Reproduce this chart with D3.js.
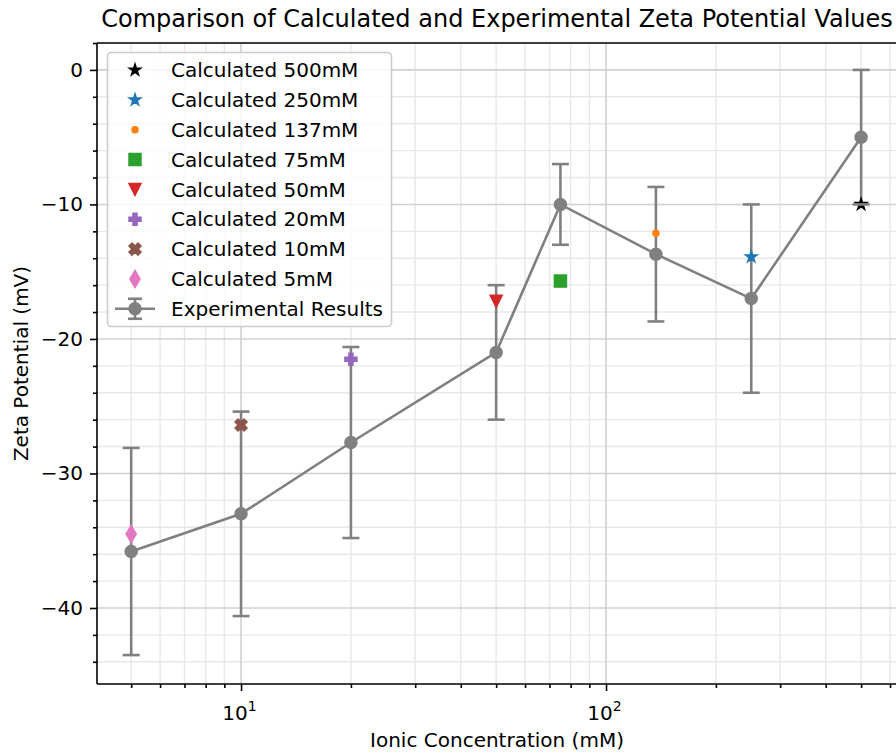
<!DOCTYPE html>
<html>
<head>
<meta charset="utf-8">
<script src="https://cdn.jsdelivr.net/npm/d3@7"></script>
<style>
  html, body { margin: 0; padding: 0; background: #fff; }
  svg { display: block; font-family: "DejaVu Sans", sans-serif; }
</style>
</head>
<body>
<svg id="chart" width="896" height="756"></svg>
<script>
// Experimental measurements (mean ± error) at each ionic concentration
const concentrations = [5, 10, 20, 50, 75, 137, 250, 500];
const expMeans = [-35.8, -33.0, -27.7, -21.0, -10.0, -13.7, -17.0, -5.0];
const expErrors = [7.7, 7.6, 7.1, 5.0, 3.0, 5.0, 7.0, 5.0];

// Calculated values, one series per concentration (legend order)
const calcLabels = ["Calculated 500mM", "Calculated 250mM", "Calculated 137mM", "Calculated 75mM",
                    "Calculated 50mM", "Calculated 20mM", "Calculated 10mM", "Calculated 5mM"];
const calcConc = [500, 250, 137, 75, 50, 20, 10, 5];
const calcValues = [-10.0, -13.9, -12.15, -15.7, -17.2, -21.5, -26.4, -34.5];
const calcColors = ["#000000", "#1f77b4", "#ff7f0e", "#2ca02c", "#d62728", "#9467bd", "#8c564b", "#e377c2"];
const calcMarkers = ["star", "star", "point", "square", "triangleDown", "plusFilled", "xFilled", "thinDiamond"];

const expLabel = "Experimental Results";
const expColor = "#808080";

const xMajorTicks = [10, 100];
const xMinorTicks = [5, 6, 7, 8, 9, 20, 30, 40, 50, 60, 70, 80, 90, 200, 300, 400, 500, 600];
const yMajorTicks = [0, -10, -20, -30, -40];
const yMinorTicks = d3.range(-44, 3, 2).filter(v => v % 10 !== 0);

const svg = d3.select("#chart");
const plot = { left: 97, right: 897, top: 43, bottom: 684 };

const x = d3.scaleLog().domain([4.03, 627]).range([plot.left, plot.right]);
const y = d3.scaleLinear().domain([-45.65, 2.0]).range([plot.bottom, plot.top]);

const MS = 12; // marker size in px

// Marker path generators (centered at origin)
function markerPath(kind, s) {
  const h = s / 2;
  const p = d3.path();
  const poly = pts => { pts.forEach((q, i) => i ? p.lineTo(q[0], q[1]) : p.moveTo(q[0], q[1])); p.closePath(); };
  switch (kind) {
    case "star": {
      const pts = [];
      const inner = h * 0.381966;
      for (let i = 0; i < 10; i++) {
        const r = i % 2 === 0 ? h : inner;
        const a = -Math.PI / 2 + i * Math.PI / 5;
        pts.push([r * Math.cos(a), r * Math.sin(a)]);
      }
      poly(pts); break;
    }
    case "point": p.arc(0, 0, s / 4, 0, 2 * Math.PI); break;
    case "circle": p.arc(0, 0, h, 0, 2 * Math.PI); break;
    case "square": poly([[-h, -h], [h, -h], [h, h], [-h, h]]); break;
    case "triangleDown": poly([[0, h], [-h, -h], [h, -h]]); break;
    case "plusFilled": {
      const u = s / 6;
      poly([[-1, -3], [1, -3], [1, -1], [3, -1], [3, 1], [1, 1], [1, 3], [-1, 3], [-1, 1], [-3, 1], [-3, -1], [-1, -1]]
        .map(q => [q[0] * u, q[1] * u]));
      break;
    }
    case "xFilled": {
      const u = s / 4;
      poly([[-1, -2], [0, -1], [1, -2], [2, -1], [1, 0], [2, 1], [1, 2], [0, 1], [-1, 2], [-2, 1], [-1, 0], [-2, -1]]
        .map(q => [q[0] * u, q[1] * u]));
      break;
    }
    case "thinDiamond": {
      const d = s * Math.SQRT1_2;
      poly([[0, -d], [0.6 * d, 0], [0, d], [-0.6 * d, 0]]);
      break;
    }
  }
  return p.toString();
}

// Grid: minor first, then major
const grid = svg.append("g");
grid.selectAll("line.xminor").data(xMinorTicks).join("line")
  .attr("x1", d => x(d)).attr("x2", d => x(d)).attr("y1", plot.top).attr("y2", plot.bottom)
  .attr("stroke", "#e8e8e8").attr("stroke-width", 1.4);
grid.selectAll("line.yminor").data(yMinorTicks).join("line")
  .attr("y1", d => y(d)).attr("y2", d => y(d)).attr("x1", plot.left).attr("x2", plot.right)
  .attr("stroke", "#e8e8e8").attr("stroke-width", 1.4);
grid.selectAll("line.xmajor").data(xMajorTicks).join("line")
  .attr("x1", d => x(d)).attr("x2", d => x(d)).attr("y1", plot.top).attr("y2", plot.bottom)
  .attr("stroke", "#d0d0d0").attr("stroke-width", 1.6);
grid.selectAll("line.ymajor").data(yMajorTicks).join("line")
  .attr("y1", d => y(d)).attr("y2", d => y(d)).attr("x1", plot.left).attr("x2", plot.right)
  .attr("stroke", "#d0d0d0").attr("stroke-width", 1.6);

// Experimental series: vertical error bars below, then line and circle markers
const expData = concentrations.map((c, i) => ({ c, m: expMeans[i], e: expErrors[i] }));
const exp = svg.append("g");
exp.selectAll("line.bar").data(expData).join("line")
  .attr("x1", d => x(d.c)).attr("x2", d => x(d.c))
  .attr("y1", d => y(d.m - d.e)).attr("y2", d => y(d.m + d.e))
  .attr("stroke", expColor).attr("stroke-width", 2.6);
exp.append("path")
  .datum(expData)
  .attr("d", d3.line().x(d => x(d.c)).y(d => y(d.m)))
  .attr("fill", "none").attr("stroke", expColor).attr("stroke-width", 2.6);
exp.selectAll("path.dot").data(expData).join("path")
  .attr("d", markerPath("circle", MS))
  .attr("transform", d => `translate(${x(d.c)},${y(d.m)})`)
  .attr("fill", expColor).attr("stroke", expColor).attr("stroke-width", 1.5);

// Calculated points
const calcData = calcConc.map((c, i) => ({ c, v: calcValues[i], color: calcColors[i], marker: calcMarkers[i] }));
svg.append("g").selectAll("path").data(calcData).join("path")
  .attr("d", d => markerPath(d.marker, MS))
  .attr("transform", d => `translate(${x(d.c)},${y(d.v)})`)
  .attr("fill", d => d.color).attr("stroke", d => d.color).attr("stroke-width", 1.5)
  .attr("stroke-linejoin", "miter");

// Error bar caps sit on top of everything in the data area
const CAP = 8.5;
const caps = svg.append("g").attr("stroke", expColor).attr("stroke-width", 2.6);
caps.selectAll("line.top").data(expData).join("line")
  .attr("x1", d => x(d.c) - CAP).attr("x2", d => x(d.c) + CAP)
  .attr("y1", d => y(d.m + d.e)).attr("y2", d => y(d.m + d.e));
caps.selectAll("line.bottom").data(expData).join("line")
  .attr("x1", d => x(d.c) - CAP).attr("x2", d => x(d.c) + CAP)
  .attr("y1", d => y(d.m - d.e)).attr("y2", d => y(d.m - d.e));

// Axes
const FS = 20;
const xAxisMajor = d3.axisBottom(x).tickValues(xMajorTicks).tickSize(7).tickPadding(7).tickFormat("");
const xAxisMinor = d3.axisBottom(x).tickValues(xMinorTicks).tickSize(4).tickFormat("");
const yAxisMajor = d3.axisLeft(y).tickValues(yMajorTicks).tickSize(7).tickPadding(7)
  .tickFormat(d => d < 0 ? "\u2212" + Math.abs(d) : String(d));
const yAxisMinor = d3.axisLeft(y).tickValues(yMinorTicks).tickSize(4).tickFormat("");

function styleAxis(g) {
  g.select(".domain").remove();
  g.selectAll(".tick line").attr("stroke", "#000").attr("stroke-width", 1.6);
  g.selectAll("text").attr("fill", "#000").style("font-size", FS + "px").style("font-family", "DejaVu Sans");
}
svg.append("g").attr("transform", `translate(0,${plot.bottom})`).call(xAxisMinor).call(styleAxis);
const gxMajor = svg.append("g").attr("transform", `translate(0,${plot.bottom})`).call(xAxisMajor).call(styleAxis);
// Power-of-ten labels with superscript exponent
gxMajor.selectAll(".tick").each(function (d) {
  const t = d3.select(this).select("text").attr("y", 36).attr("dy", null);
  t.text("10");
  t.append("tspan").attr("dy", -9).style("font-size", "14px").text(String(Math.round(Math.log10(d))));
});
gxMajor.selectAll(".tick text").attr("dx", "-2");

svg.append("g").attr("transform", `translate(${plot.left},0)`).call(yAxisMinor).call(styleAxis);
svg.append("g").attr("transform", `translate(${plot.left},0)`).call(yAxisMajor).call(styleAxis);

// Spines
const spines = svg.append("g").attr("stroke", "#000").attr("stroke-width", 1.6);
spines.append("line").attr("x1", plot.left).attr("x2", plot.left).attr("y1", plot.top).attr("y2", plot.bottom);
spines.append("line").attr("x1", plot.left).attr("x2", plot.right).attr("y1", plot.bottom).attr("y2", plot.bottom);
spines.append("line").attr("x1", plot.left).attr("x2", plot.right).attr("y1", plot.top).attr("y2", plot.top);
spines.append("line").attr("x1", plot.right).attr("x2", plot.right).attr("y1", plot.top).attr("y2", plot.bottom);

// Titles
svg.append("text").attr("x", (plot.left + plot.right) / 2).attr("y", 27)
  .attr("text-anchor", "middle").style("font-size", "24px").attr("fill", "#000")
  .text("Comparison of Calculated and Experimental Zeta Potential Values");
svg.append("text").attr("x", (plot.left + plot.right) / 2).attr("y", 747)
  .attr("text-anchor", "middle").style("font-size", FS + "px").attr("fill", "#000")
  .text("Ionic Concentration (mM)");
svg.append("text").attr("transform", `translate(28,${(plot.top + plot.bottom) / 2}) rotate(-90)`)
  .attr("text-anchor", "middle").style("font-size", FS + "px").attr("fill", "#000")
  .text("Zeta Potential (mV)");

// Legend
const legend = svg.append("g");
legend.append("rect").attr("x", 107.5).attr("y", 52.5).attr("width", 284).attr("height", 274)
  .attr("rx", 4).attr("fill", "#fff").attr("fill-opacity", 0.8).attr("stroke", "#cccccc").attr("stroke-width", 1.6);
const rowY = i => 70 + i * 29.85;
const handleX = 135;
calcLabels.forEach((lab, i) => {
  legend.append("path").attr("d", markerPath(calcMarkers[i], MS))
    .attr("transform", `translate(${handleX},${rowY(i)})`)
    .attr("fill", calcColors[i]).attr("stroke", calcColors[i]).attr("stroke-width", 1.5);
  legend.append("text").attr("x", 171).attr("y", rowY(i)).attr("dy", "0.36em")
    .style("font-size", FS + "px").attr("fill", "#000").text(lab);
});
{
  const yy = rowY(calcLabels.length);
  const h = legend.append("g").attr("stroke", expColor).attr("stroke-width", 2.6);
  h.append("line").attr("x1", 115).attr("x2", 155).attr("y1", yy).attr("y2", yy);
  h.append("line").attr("x1", handleX).attr("x2", handleX).attr("y1", yy - 10).attr("y2", yy + 10);
  h.append("line").attr("x1", handleX - 7).attr("x2", handleX + 7).attr("y1", yy - 10).attr("y2", yy - 10);
  h.append("line").attr("x1", handleX - 7).attr("x2", handleX + 7).attr("y1", yy + 10).attr("y2", yy + 10);
  legend.append("path").attr("d", markerPath("circle", MS))
    .attr("transform", `translate(${handleX},${yy})`)
    .attr("fill", expColor).attr("stroke", expColor).attr("stroke-width", 1.5);
  legend.append("text").attr("x", 171).attr("y", yy).attr("dy", "0.36em")
    .style("font-size", FS + "px").attr("fill", "#000").text(expLabel);
}
</script>
</body>
</html>
